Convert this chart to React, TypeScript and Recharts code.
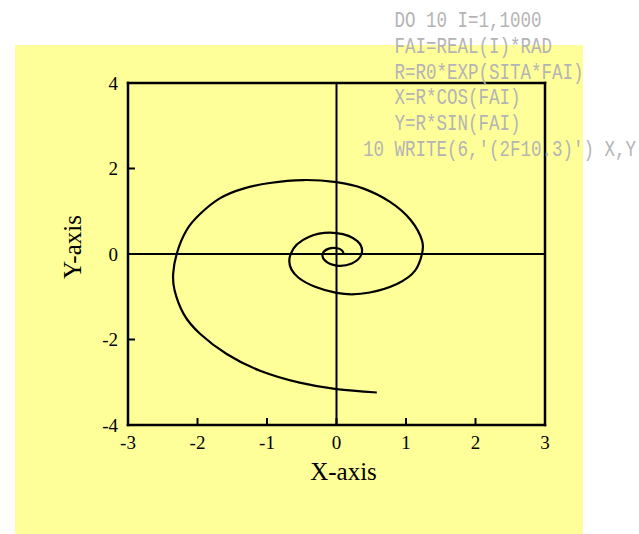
import { LineChart, Line, XAxis, YAxis, ReferenceLine } from 'recharts';

// tick values
const xTicks = [-3, -2, -1, 0, 1, 2, 3];
const yTicks = [-4, -2, 0, 2, 4];

// spiral points, in drawing order (centre outwards)
const spiralX = [
  0.105, 0.08, 0.0, -0.12, -0.2, -0.16, 0.0, 0.22,
  0.36, 0.3, 0.0, -0.4, -0.66, -0.55, 0.0, 0.48, 0.87, 1.13,
  1.23, 1.23, 1.07, 0.77, 0.39, 0.0, -0.48, -0.96, -1.34, -1.68, -1.96, -2.16, -2.3,
  -2.35, -2.33, -2.2, -1.96, -1.58, -1.1, -0.53, 0.0, 0.58,
];
const spiralY = [
  0.0, 0.08, 0.14, 0.12, 0.0, -0.16, -0.27, -0.22,
  0.0, 0.3, 0.49, 0.4, 0.0, -0.55, -0.91, -0.9, -0.7, -0.39,
  0.0, 0.32, 0.79, 1.22, 1.53, 1.68, 1.73, 1.66, 1.53, 1.3, 0.94, 0.55, 0.0,
  -0.46, -0.85, -1.4, -1.87, -2.34, -2.73, -3.01, -3.16, -3.24,
];

const codeLines = [
  '   DO 10 I=1,1000',
  '   FAI=REAL(I)*RAD',
  '   R=R0*EXP(SITA*FAI)',
  '   X=R*COS(FAI)',
  '   Y=R*SIN(FAI)',
  '10 WRITE(6,\'(2F10.3)\') X,Y',
];

const data = spiralX.map((x, i) => ({ x, y: spiralY[i] }));

const serif = '"Liberation Serif", "Times New Roman", serif';
const tickStyle = { fill: '#000', fontSize: 19, fontFamily: serif };
const frame = { stroke: '#000', strokeWidth: 2.5, strokeLinecap: 'square' as const };
const tickMark = { stroke: '#000', strokeWidth: 2 };

export default function App() {
  return (
    <div style={{ position: 'absolute', left: 0, top: 0, width: 639, height: 534, overflow: 'hidden', background: '#fff' }}>
      <div style={{ position: 'absolute', left: 15, top: 45, width: 568, height: 489, background: '#ffff99' }} />
      <div style={{ position: 'absolute', left: 0, top: 0 }}>
        <LineChart width={639} height={534} data={data} margin={{ top: 80, right: 91, left: 0, bottom: 0 }}>
          <XAxis
            type="number"
            dataKey="x"
            domain={[-3, 3]}
            ticks={xTicks}
            interval={0}
            height={109}
            axisLine={frame}
            tickLine={tickMark}
            tickSize={-7}
            tickMargin={18}
            tick={tickStyle}
            label={{ value: 'X-axis', position: 'center', dx: 7, dy: -8, fill: '#000', fontSize: 25, fontFamily: serif }}
          />
          <XAxis
            xAxisId="top"
            orientation="top"
            type="number"
            dataKey="x"
            domain={[-3, 3]}
            ticks={xTicks}
            interval={0}
            height={3}
            axisLine={frame}
            tickLine={tickMark}
            tickSize={-7}
            tick={false}
          />
          <YAxis
            type="number"
            domain={[-4, 4]}
            ticks={yTicks}
            interval={0}
            width={128}
            axisLine={frame}
            tickLine={tickMark}
            tickSize={-7}
            tickMargin={17}
            tick={tickStyle}
            label={{ value: 'Y-axis', angle: -90, position: 'center', dx: 8, dy: -7, fill: '#000', fontSize: 25, fontFamily: serif }}
          />
          <YAxis
            yAxisId="right"
            orientation="right"
            type="number"
            domain={[-4, 4]}
            ticks={yTicks}
            interval={0}
            width={3}
            axisLine={frame}
            tickLine={tickMark}
            tickSize={-7}
            tick={false}
          />
          <ReferenceLine x={0} stroke="#000" strokeWidth={2} />
          <ReferenceLine y={0} stroke="#000" strokeWidth={2} />
          <Line
            type="natural"
            dataKey="y"
            stroke="#000"
            strokeWidth={2.2}
            dot={false}
            activeDot={false}
            isAnimationActive={false}
          />
        </LineChart>
      </div>
      <div
        style={{
          position: 'absolute',
          left: 363,
          top: 9,
          fontFamily: '"Liberation Mono", "DejaVu Sans Mono", monospace',
          fontSize: 17.5,
          lineHeight: '19.8px',
          color: '#b4b4b4',
          whiteSpace: 'pre',
          transform: 'scaleY(1.3)',
          transformOrigin: 'top left',
        }}
      >
        {codeLines.join('\n')}
      </div>
    </div>
  );
}
